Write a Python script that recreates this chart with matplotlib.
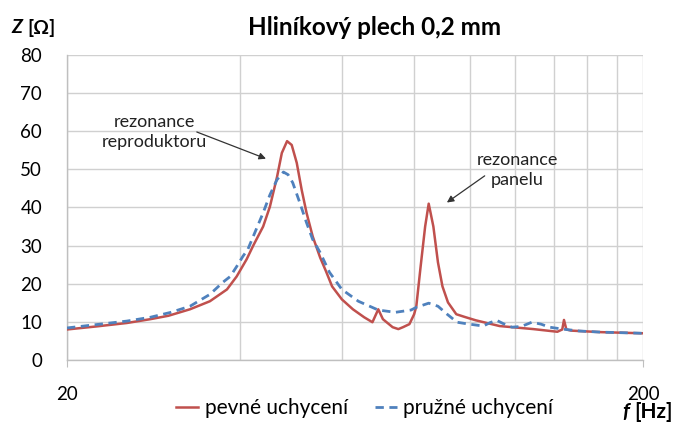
import matplotlib
matplotlib.use("Agg")
import matplotlib.pyplot as plt

plt.rcParams['font.family'] = ['Lato', 'DejaVu Sans']

# pevne uchyceni (cervena)
f_pevne = [20, 22.5, 25.4, 27.9, 30.0, 32.7, 35.4, 37.9, 39.4, 41.0, 42.1, 43.8, 45.0,
           46.3, 47.2, 48.2, 49.1, 50.1, 51.1, 52.1, 53.4, 55.0, 56.3, 57.7, 60.0, 62.7,
           65.6, 67.8, 69.4, 70.7, 73.5, 75.2, 76.6, 78.6, 80.1, 80.8, 82.2, 83.7, 84.9,
           86.5, 88.1, 89.7, 91.7, 94.8, 98, 102.5, 112.7, 129, 142, 144.8, 145.8, 147.2,
           150, 169, 200]
z_pevne = [8.0, 8.8, 9.7, 10.7, 11.6, 13.3, 15.4, 18.5, 21.9, 26.4, 30.0, 35.0, 40.2,
           48.0, 54.3, 57.4, 56.4, 51.7, 44.6, 38.6, 32.4, 26.9, 23.3, 19.3, 15.9, 13.3,
           11.2, 9.9, 13.3, 10.7, 8.6, 8.1, 8.6, 9.4, 12.0, 14.1, 24.5, 35.0, 41.0,
           35.0, 25.6, 19.3, 15.1, 12.0, 11.3, 10.4, 8.9, 8.1, 7.4, 8.0, 10.5, 8.0,
           7.7, 7.3, 7.0]

# pruzne uchyceni (modra)
f_pruzne = [20, 25.4, 27.9, 30.3, 32.7, 35.4, 37.3, 38.4, 39.4, 40.4, 41.2, 42.1, 43.8,
            45.0, 46.3, 47.5, 48.4, 49.3, 50.7, 52.1, 53.4, 55.0, 57.1, 60.0, 64.1, 69.4,
            74.3, 79.1, 80.8, 84.9, 88.1, 91.4, 95.1, 98.8, 105.6, 108.5, 111.4, 114.5,
            118.4, 123, 128.2, 133, 137.6, 145, 155, 169, 200]
z_pruzne = [8.4, 10.2, 11.2, 12.5, 14.1, 17.2, 20.4, 21.9, 24.5, 27.2, 29.0, 32.4, 38.6,
            43.3, 47.3, 49.3, 48.6, 46.5, 41.3, 36.0, 31.6, 28.2, 23.0, 18.5, 15.4, 13.1,
            12.5, 13.1, 13.8, 14.9, 14.1, 12.0, 9.9, 9.5, 8.9, 9.8, 10.4, 9.5,
            8.6, 8.8, 9.9, 9.4, 8.6, 8.1, 7.6, 7.3, 7.0]

x_major = [20, 200]
x_minor = [40, 60, 80, 100, 120, 140, 160, 180]
y_ticks = [0, 10, 20, 30, 40, 50, 60, 70, 80]

red = '#C0504D'
blue = '#4F81BD'
grid_c = '#D0D0D0'

fig = plt.figure(figsize=(6.73, 4.23), dpi=100)
ax = fig.add_axes([0.0996, 0.149, 0.8559, 0.721])

ax.plot(f_pevne, z_pevne, color=red, lw=1.8, label='pevné uchycení', zorder=3,
        solid_joinstyle='round')
ax.plot(f_pruzne, z_pruzne, color=blue, lw=2.0, dashes=(3, 2), label='pružné uchycení', zorder=4)

ax.set_xscale('log')
ax.set_xlim(20, 200)
ax.set_ylim(0, 80)
ax.set_xticks(x_major)
ax.set_xticklabels([str(v) for v in x_major])
ax.set_xticks(x_minor, minor=True)
ax.xaxis.set_minor_formatter(matplotlib.ticker.NullFormatter())
ax.set_yticks(y_ticks)

ax.grid(True, which='both', axis='x', color=grid_c, lw=1.0)
ax.grid(True, which='major', axis='y', color=grid_c, lw=1.0)
ax.set_axisbelow(True)

for s in ['top', 'right']:
    ax.spines[s].set_visible(False)
for s in ['left', 'bottom']:
    ax.spines[s].set_color('#BFBFBF')
    ax.spines[s].set_linewidth(1.0)

ax.tick_params(axis='x', which='major', length=5, color='#BFBFBF', pad=14, labelsize=13.5)
ax.tick_params(axis='x', which='minor', length=0)
ax.tick_params(axis='y', length=0, pad=18, labelsize=13.5)

# popisky rezonanci
ax.text(28.4, 59.8, 'rezonance\nreproduktoru', ha='center', va='center', fontsize=13,
        linespacing=1.3, color='#222222')
ax.annotate('', xy=(44.3, 52.8), xytext=(33.6, 59.8),
            arrowprops=dict(arrowstyle='-|>', color='#333333', lw=0.9, mutation_scale=10,
                            shrinkA=0, shrinkB=0))
ax.text(121, 49.9, 'rezonance\npanelu', ha='center', va='center', fontsize=13,
        linespacing=1.3, color='#222222')
ax.annotate('', xy=(91.3, 41.3), xytext=(106.2, 48.3),
            arrowprops=dict(arrowstyle='-|>', color='#333333', lw=0.9, mutation_scale=10,
                            shrinkA=0, shrinkB=0))

fig.text(0.556, 0.934, 'Hliníkový plech 0,2 mm', ha='center', va='center',
         fontsize=17.5, fontweight='bold')
fig.text(0.017, 0.934, 'Z', ha='left', va='center', fontsize=14, fontweight='bold',
         style='italic')
fig.text(0.040, 0.934, '[Ω]', ha='left', va='center', fontsize=14, fontweight='bold')
fig.text(0.999, 0.026, '[Hz]', ha='right', va='center', fontsize=15, fontweight='bold')
fig.text(0.935, 0.026, 'f', ha='right', va='center', fontsize=15, fontweight='bold',
         style='italic')

fig.legend(loc='center', bbox_to_anchor=(0.542, 0.035), ncol=2, frameon=False,
           fontsize=15, handlelength=1.07, handletextpad=0.3, columnspacing=1.3)

fig.savefig('out.png', dpi=100)
